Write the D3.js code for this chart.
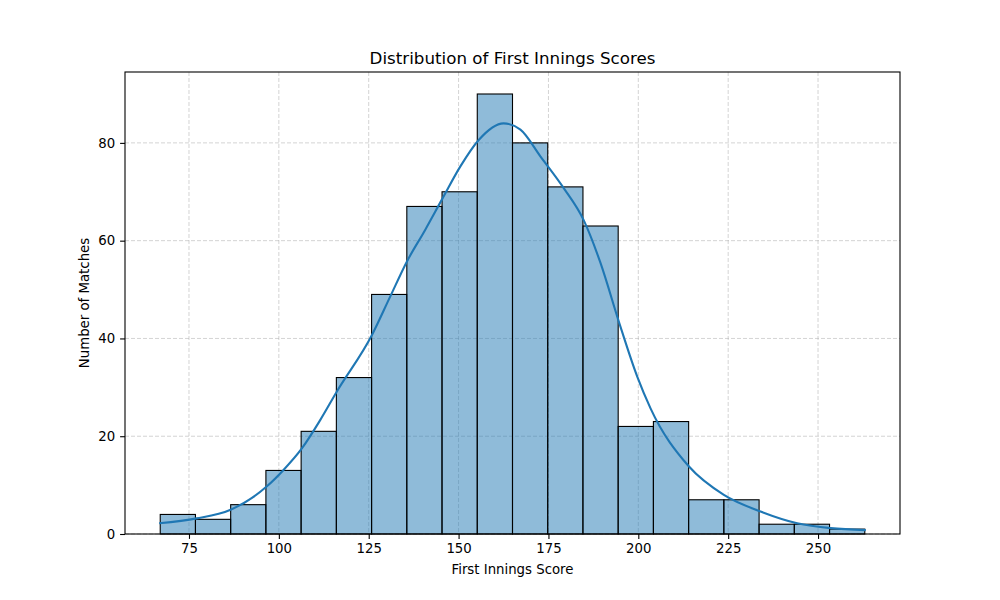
<!DOCTYPE html>
<html>
<head>
<meta charset="utf-8">
<script src="https://cdn.jsdelivr.net/npm/d3@7"></script>
<style>
  html, body { margin: 0; padding: 0; background: #fff; }
  svg { display: block; font-family: "DejaVu Sans", sans-serif; }
</style>
</head>
<body>
<svg id="chart" width="1000" height="600"></svg>
<script>
// ---- data ----
const binEdges = [67, 76.8, 86.6, 96.4, 106.2, 116, 125.8, 135.6, 145.4, 155.2, 165,
                  174.8, 184.6, 194.4, 204.2, 214, 223.8, 233.6, 243.4, 253.2, 263];
const binCounts = [4, 3, 6, 13, 21, 32, 49, 67, 70, 90, 80, 71, 63, 22, 23, 7, 7, 2, 2, 1];
const kdeX = [66.7, 77.1, 86.4, 96.6, 101.3, 106.4, 111.5, 116.1, 125.9, 131.0, 135.6, 140.7,
              145.5, 150.5, 155.6, 162.5, 167.2, 172.8, 179.3, 184.8, 189.5, 194.6, 199.7,
              203.4, 214.1, 223.8, 234.0, 244.2, 253.5, 263.3];
const kdeY = [2.2, 3.2, 4.9, 9.7, 13.1, 17.5, 23.3, 29.1, 40.7, 48.6, 55.7, 62.2,
              68.6, 75.2, 80.6, 84.0, 82.7, 77.2, 70.7, 64.2, 55.4, 43.4, 32.2,
              25.7, 13.8, 8.0, 4.6, 2.2, 1.2, 0.8];
const xTicks = [75, 100, 125, 150, 175, 200, 225, 250];
const yTicks = [0, 20, 40, 60, 80];
const titleText = "Distribution of First Innings Scores";
const xLabel = "First Innings Score";
const yLabel = "Number of Matches";

// ---- layout ----
const svg = d3.select("#chart");
const L = 125, R = 900, T = 72, B = 534;
const xMin = binEdges[0], xMax = binEdges[binEdges.length - 1];
const pad = (xMax - xMin) * 0.05;
const x = d3.scaleLinear().domain([xMin - pad, xMax + pad]).range([L, R]);
const y = d3.scaleLinear().domain([0, d3.max(binCounts) * 1.05]).range([B, T]);

// grid
const grid = svg.append("g");
grid.selectAll("line.vx").data(xTicks).join("line")
  .attr("x1", d => x(d)).attr("x2", d => x(d)).attr("y1", T).attr("y2", B)
  .attr("stroke", "#b0b0b0").attr("stroke-opacity", 0.7).attr("stroke-width", 0.8)
  .attr("stroke-dasharray", "4,2");
grid.selectAll("line.hy").data(yTicks).join("line")
  .attr("x1", L).attr("x2", R).attr("y1", d => y(d)).attr("y2", d => y(d))
  .attr("stroke", "#b0b0b0").attr("stroke-opacity", 0.7).attr("stroke-width", 0.8)
  .attr("stroke-dasharray", "4,2");

// bars
const bins = binCounts.map((c, i) => ({ x0: binEdges[i], x1: binEdges[i + 1], c }));
svg.append("g").selectAll("rect").data(bins).join("rect")
  .attr("x", d => x(d.x0)).attr("width", d => x(d.x1) - x(d.x0))
  .attr("y", d => y(d.c)).attr("height", d => y(0) - y(d.c))
  .attr("fill", "#1f77b4").attr("fill-opacity", 0.5)
  .attr("stroke", "#000").attr("stroke-width", 1.1);

// kde
const kde = kdeX.map((v, i) => [v, kdeY[i]]);
svg.append("path").datum(kde)
  .attr("d", d3.line().x(d => x(d[0])).y(d => y(d[1])).curve(d3.curveMonotoneX))
  .attr("fill", "none").attr("stroke", "#1f77b4").attr("stroke-width", 2.1);

// axes
const xAxis = svg.append("g").attr("transform", `translate(0,${B})`)
  .call(d3.axisBottom(x).tickValues(xTicks).tickSize(4.9).tickPadding(4.9));
const yAxis = svg.append("g").attr("transform", `translate(${L},0)`)
  .call(d3.axisLeft(y).tickValues(yTicks).tickSize(4.9).tickPadding(4.9));
[xAxis, yAxis].forEach(a => {
  a.selectAll("text").attr("font-size", "13.3px").attr("fill", "#000")
    .attr("font-family", "DejaVu Sans, sans-serif");
  a.selectAll("line").attr("stroke", "#000").attr("stroke-width", 1.1);
  a.select(".domain").remove();
});

// frame
svg.append("rect").attr("x", L).attr("y", T).attr("width", R - L).attr("height", B - T)
  .attr("fill", "none").attr("stroke", "#000").attr("stroke-width", 1.1);

// labels
svg.append("text").attr("x", (L + R) / 2).attr("y", 64).attr("text-anchor", "middle")
  .attr("font-size", "16.7px").attr("fill", "#000").text(titleText);
svg.append("text").attr("x", (L + R) / 2).attr("y", 574).attr("text-anchor", "middle")
  .attr("font-size", "13.3px").attr("fill", "#000").text(xLabel);
svg.append("text").attr("transform", `translate(89,${(T + B) / 2}) rotate(-90)`)
  .attr("text-anchor", "middle").attr("font-size", "13.3px").attr("fill", "#000").text(yLabel);
</script>
</body>
</html>
